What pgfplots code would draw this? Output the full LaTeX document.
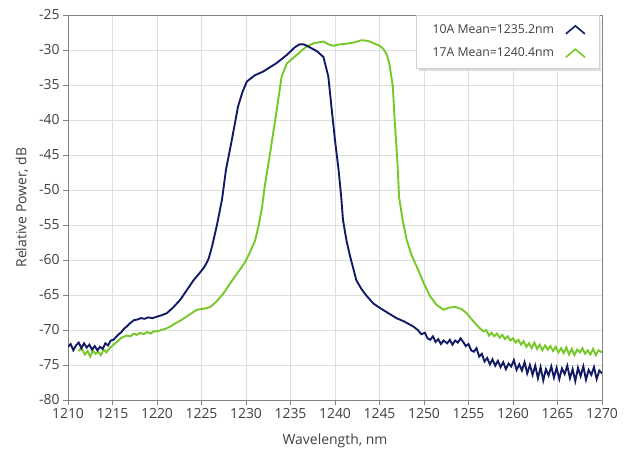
\documentclass[border=0pt]{standalone}
\usepackage{fontspec}
\setmainfont{Open Sans}
\usepackage{pgfplots}
\pgfplotsset{compat=1.18}
\usetikzlibrary{calc}

\definecolor{navy}{RGB}{18,26,102}
\definecolor{lime}{RGB}{118,200,40}
\definecolor{txt}{RGB}{64,64,64}
\definecolor{frame}{RGB}{130,130,130}

\begin{document}
\begin{tikzpicture}
\begin{axis}[
    scale only axis,
    width=534bp, height=385bp,
    xmin=1210, xmax=1270,
    ymin=-80, ymax=-25,
    xtick distance=5, ytick distance=5,
    grid=major,
    major grid style={color=black!13, line width=0.7pt},
    axis line style={frame, line width=0.9pt},
    xtick pos=bottom, ytick pos=left,
    tick align=outside,
    major tick length=5bp,
    tick style={frame, line width=0.9pt},
    /pgf/number format/assume math mode=true,
    /pgf/number format/1000 sep={},
    ticklabel style={font=\fontsize{14}{16}\selectfont, text=txt},
    label style={font=\fontsize{14}{16}\selectfont, text=txt},
    xlabel={Wavelength, nm},
    ylabel={Relative Power, dB},
    x label style={at={(axis description cs:0.5,-0.106)}, anchor=center},
    y label style={at={(axis description cs:-0.086,0.5)}, anchor=center},
    legend plot pos=right,
    legend cell align=left,
    legend image code/.code={
        \draw[#1, line width=1.6pt] (0bp,-4bp) -- (9.5bp,4bp) -- (19bp,-4bp);
    },
    legend style={name=leg, at={(rel axis cs:0.996,1)}, anchor=north east,
        font=\fontsize{12.3}{15}\selectfont, text=txt,
        draw=black!18, fill=white,
        inner xsep=14bp, inner ysep=7.5bp,
        column sep=9bp, row sep=9bp},
]

\addlegendimage{navy}
\addlegendentry{10A Mean=1235.2nm}
\addlegendimage{lime}
\addlegendentry{17A Mean=1240.4nm}

% 17A
\addplot[lime, line width=1.9pt, forget plot] coordinates {
(1211.2,-73.0) (1211.5,-72.6) (1211.9,-73.5) (1212.2,-73.0) (1212.5,-73.8)
(1212.8,-72.9) (1213.1,-73.4) (1213.4,-73.1) (1213.7,-73.6) (1214.0,-72.8)
(1214.3,-73.2) (1214.7,-72.6) (1215.0,-72.2) (1215.3,-71.9) (1215.6,-71.6)
(1215.9,-71.2) (1216.2,-71.0) (1216.6,-70.8) (1217.0,-70.9) (1217.4,-70.5)
(1217.7,-70.7) (1218.1,-70.4) (1218.5,-70.6) (1218.9,-70.3) (1219.3,-70.5)
(1219.6,-70.2) (1220.0,-70.2) (1220.5,-70.0) (1221.0,-69.8) (1221.5,-69.5)
(1222.0,-69.1) (1222.7,-68.6) (1223.3,-68.1) (1224.0,-67.5) (1224.5,-67.1)
(1225.0,-67.0) (1225.5,-66.9) (1226.0,-66.7) (1226.7,-65.9) (1227.45,-64.8)
(1228.4,-63.0) (1229.3,-61.4) (1229.9,-60.3) (1230.4,-59.0) (1231.0,-57.3)
(1231.4,-55.2) (1231.8,-52.5) (1232.1,-49.5) (1232.7,-44.8) (1233.45,-38.6)
(1234.0,-33.8) (1234.6,-31.9) (1235.7,-30.7) (1236.8,-29.5) (1237.7,-29.0)
(1238.7,-28.8) (1239.3,-29.2) (1239.8,-29.4) (1240.5,-29.2) (1241.3,-29.1)
(1242.2,-28.9) (1243.0,-28.6) (1243.7,-28.7) (1244.3,-29.0) (1245.0,-29.4)
(1245.4,-29.8) (1245.8,-30.6) (1246.1,-31.9) (1246.5,-35.2) (1246.7,-40.0)
(1247.0,-45.7) (1247.2,-51.0) (1247.6,-54.3) (1248.05,-57.1) (1248.6,-59.3)
(1249.2,-61.0) (1250.0,-63.4) (1250.7,-65.2) (1251.4,-66.4) (1252.2,-67.1)
(1252.8,-66.8) (1253.5,-66.7) (1254.2,-67.0) (1254.8,-67.6) (1255.5,-68.7)
(1256.3,-69.8) (1256.7,-70.2) (1257.0,-70.0) (1257.3,-70.8) (1257.6,-70.4)
(1257.9,-70.9) (1258.2,-70.5) (1258.5,-71.1) (1258.8,-70.7) (1259.1,-71.3)
(1259.4,-70.9) (1259.7,-71.5) (1260.0,-71.2) (1260.3,-71.8) (1260.6,-71.4)
(1260.9,-72.1) (1261.2,-71.6) (1261.5,-72.4) (1261.8,-71.9) (1262.1,-72.6)
(1262.4,-71.8) (1262.7,-72.7) (1263.0,-72.1) (1263.3,-72.9) (1263.6,-72.2)
(1263.9,-72.8) (1264.2,-72.3) (1264.5,-73.0) (1264.8,-72.4) (1265.1,-73.2)
(1265.4,-72.6) (1265.7,-73.3) (1266.0,-72.5) (1266.3,-73.5) (1266.6,-72.7)
(1266.9,-73.6) (1267.2,-72.8) (1267.5,-73.2) (1267.8,-72.6) (1268.1,-73.4)
(1268.4,-72.9) (1268.7,-73.5) (1269.0,-72.7) (1269.3,-73.6) (1269.6,-72.9)
(1270.0,-73.2)
};

% 10A
\addplot[navy, line width=1.9pt, forget plot] coordinates {
(1210.0,-72.4) (1210.3,-72.0) (1210.6,-72.9) (1210.9,-72.2) (1211.2,-71.8)
(1211.5,-72.6) (1211.8,-71.9) (1212.1,-72.5) (1212.4,-72.1) (1212.7,-72.8)
(1213.0,-72.3) (1213.3,-72.9) (1213.6,-72.4) (1213.9,-72.7) (1214.2,-71.9)
(1214.5,-72.2) (1214.8,-71.5) (1215.1,-71.4) (1215.4,-71.0) (1215.7,-70.6)
(1216.0,-70.3) (1216.3,-69.8) (1216.6,-69.5) (1217.0,-69.0) (1217.4,-68.6)
(1217.8,-68.5) (1218.2,-68.3) (1218.6,-68.4) (1219.0,-68.2) (1219.5,-68.3)
(1220.0,-68.1) (1220.5,-67.9) (1221.1,-67.6) (1221.8,-66.8) (1222.6,-65.7)
(1223.3,-64.4) (1224.1,-62.9) (1224.7,-62.0) (1225.2,-61.2) (1225.5,-60.6)
(1225.8,-59.8) (1226.2,-58.0) (1226.7,-55.2) (1227.3,-51.4) (1227.75,-47.1)
(1228.4,-42.9) (1229.1,-38.1) (1229.6,-36.0) (1230.1,-34.5) (1231.0,-33.6)
(1231.9,-33.1) (1233.4,-31.9) (1234.5,-30.8) (1235.5,-29.6) (1236.0,-29.2)
(1236.5,-29.2) (1237.0,-29.5) (1238.0,-30.2) (1238.7,-31.0) (1239.25,-33.8)
(1239.6,-38.1) (1240.0,-42.9) (1240.4,-47.1) (1240.7,-51.0) (1240.9,-54.3)
(1241.3,-57.3) (1241.7,-59.5) (1242.4,-62.9) (1243.0,-64.2) (1243.6,-65.2)
(1244.3,-66.2) (1245.1,-66.9) (1246.0,-67.6) (1246.9,-68.3) (1247.8,-68.8)
(1248.8,-69.5) (1249.3,-70.0) (1249.7,-70.6) (1250.1,-70.4) (1250.4,-71.2)
(1250.7,-71.4) (1251.0,-70.9) (1251.3,-71.7) (1251.6,-71.3) (1251.9,-72.0)
(1252.2,-71.5) (1252.6,-71.9) (1252.9,-71.4) (1253.2,-72.1) (1253.5,-71.5)
(1253.8,-71.8) (1254.1,-71.2) (1254.4,-71.7) (1254.7,-72.3) (1255.0,-72.0)
(1255.3,-72.9) (1255.6,-73.1) (1255.9,-72.6) (1256.2,-73.8) (1256.5,-73.4)
(1256.8,-74.5) (1257.1,-74.0) (1257.4,-74.9) (1257.7,-74.2) (1258.0,-75.1)
(1258.3,-74.4) (1258.6,-75.3) (1258.9,-74.6) (1259.2,-75.6) (1259.5,-74.8)
(1259.8,-75.2) (1260.1,-74.3) (1260.4,-75.7) (1260.7,-74.9) (1261.0,-75.8)
(1261.3,-74.6) (1261.6,-76.2) (1261.9,-75.0) (1262.2,-76.4) (1262.5,-75.1)
(1262.8,-76.9) (1263.1,-75.3) (1263.4,-77.2) (1263.7,-75.6) (1264.0,-76.5)
(1264.3,-75.2) (1264.6,-76.8) (1264.9,-75.4) (1265.2,-77.0) (1265.5,-75.5)
(1265.8,-76.3) (1266.1,-75.1) (1266.4,-76.9) (1266.7,-75.6) (1267.0,-77.3)
(1267.3,-75.4) (1267.6,-76.6) (1267.9,-75.2) (1268.2,-77.1) (1268.5,-75.7)
(1268.8,-76.4) (1269.1,-75.3) (1269.4,-77.0) (1269.7,-75.8) (1270.0,-76.2)
};

\end{axis}
% soft shadow under the legend box
\fill[black!14] ($(leg.south west)+(3bp,-0.5bp)$) rectangle ($(leg.south east)+(1.5bp,-3bp)$);
\fill[black!8] ($(leg.north east)+(0.5bp,-3bp)$) rectangle ($(leg.south east)+(1.5bp,-0.5bp)$);
\path ($(current axis.south west)+(-68bp,-56bp)$) rectangle ($(current axis.north east)+(24bp,15bp)$);
\end{tikzpicture}
\end{document}
